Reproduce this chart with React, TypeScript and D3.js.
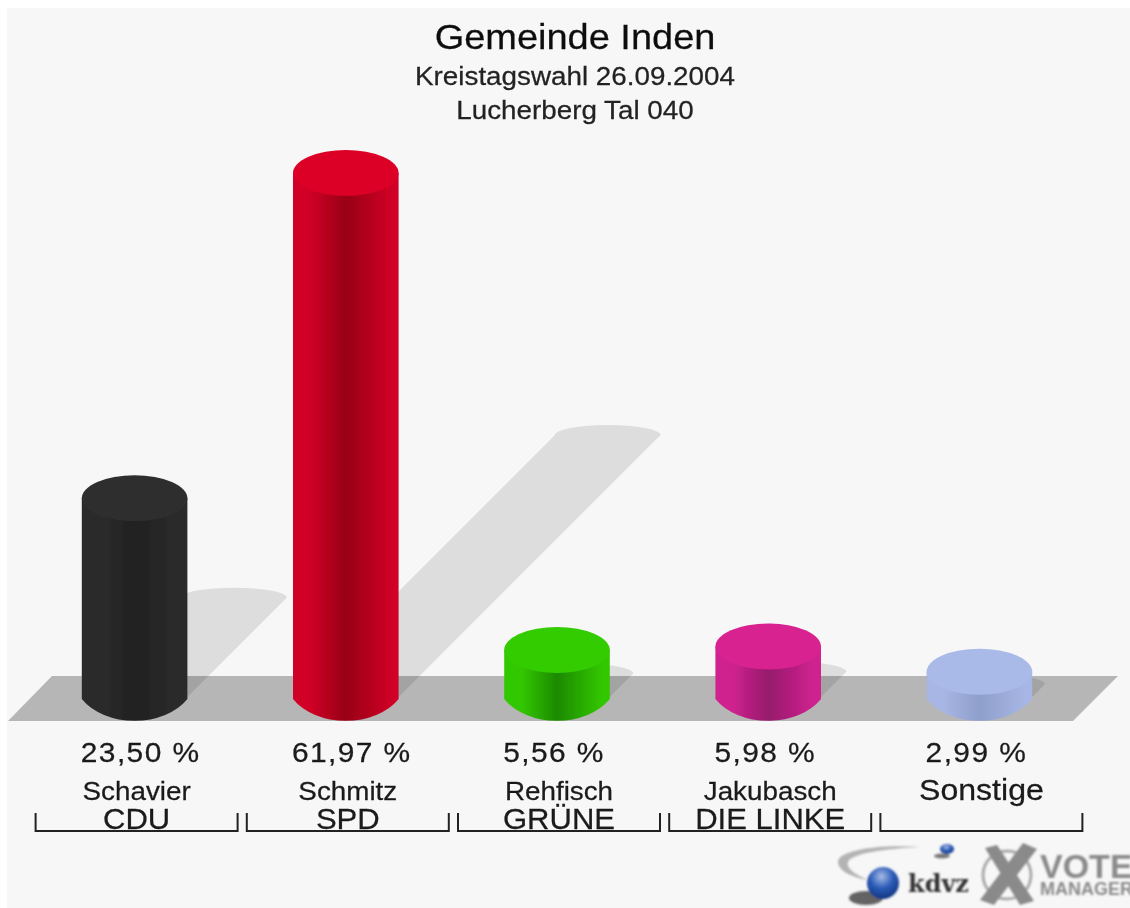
import React from 'react'
import * as d3 from 'd3'

const W = 1130
const H = 908

const parties = ['CDU', 'SPD', 'GRÜNE', 'DIE LINKE', '']
const names = ['Schavier', 'Schmitz', 'Rehfisch', 'Jakubasch', 'Sonstige']
const values = [23.5, 61.97, 5.56, 5.98, 2.99]
const valueLabels = ['23,50 %', '61,97 %', '5,56 %', '5,98 %', '2,99 %']
const sideLight = ['#2c2c2c', '#d00026', '#33c800', '#d0228f', '#a7b6e4']
const sideDark = ['#212121', '#980016', '#1c8a00', '#961a6c', '#8f9fcc']
const topColors = ['#2f2f2f', '#dc0026', '#33cc00', '#d8228f', '#aabae8']
const titleLines = ['Gemeinde Inden', 'Kreistagswahl 26.09.2004', 'Lucherberg Tal 040']

const baseY = 697
const cornerY = 699
const ry = 23
const font = '"Liberation Sans", Arial, sans-serif'
// the source image is stretched a little sideways
const stretch = 1.07

const x = d3.scaleBand<number>()
  .domain(d3.range(values.length))
  .range([29, 1085])
  .paddingInner(0.5)
  .paddingOuter(0.25)

const h = d3.scaleLinear().domain([0, 61.97]).range([0, 524])

const Label = ({ x, y, size, anchor = 'middle', spacing = 0, fill = '#1a1a1a', children }: any) => (
  <text
    transform={`translate(${x},${y}) scale(${stretch},1)`}
    textAnchor={anchor}
    fontFamily={font}
    fontSize={size}
    letterSpacing={spacing}
    fill={fill}
    stroke={fill}
    strokeWidth={0.25}
  >
    {children}
  </text>
)

export default function App() {
  const rx = x.bandwidth() / 2

  const floor = d3.path()
  floor.moveTo(8, 721)
  floor.lineTo(1073, 721)
  floor.lineTo(1118, 676)
  floor.lineTo(52, 676)
  floor.closePath()

  return (
    <svg width={W} height={H} style={{ position: 'fixed', left: 0, top: 0 }}>
      <defs>
        <filter id="soft" x="-2%" y="-2%" width="104%" height="104%">
          <feGaussianBlur stdDeviation="0.6" />
        </filter>
        <filter id="softer" x="-5%" y="-5%" width="110%" height="110%">
          <feGaussianBlur stdDeviation="0.9" />
        </filter>
        <radialGradient id="ball" cx="0.45" cy="0.3" r="0.8">
          <stop offset="0" stopColor="#a8bce6" />
          <stop offset="0.45" stopColor="#2c5cb8" />
          <stop offset="1" stopColor="#0c2a70" />
        </radialGradient>
        {values.map((_, i) => (
          <linearGradient key={i} id={'side' + i}>
            <stop offset="0" stopColor={sideLight[i]} />
            <stop offset="0.16" stopColor={sideLight[i]} />
            <stop offset="0.5" stopColor={sideDark[i]} />
            <stop offset="0.94" stopColor={sideLight[i]} />
            <stop offset="1" stopColor={sideLight[i]} />
          </linearGradient>
        ))}
      </defs>

      <rect x={7} y={8} width={W - 7} height={H - 8} fill="#f7f7f7" />

      <g filter="url(#soft)">
        <path d={floor.toString()} fill="#b6b6b6" />

        {/* shadows fall up and to the right */}
        {values.map((v, i) => {
          const cx = x(i)! + rx
          const off = h(v) / 2
          return (
            <path
              key={i}
              fill="#000"
              fillOpacity={0.1}
              d={`M${cx - rx},${baseY} L${cx - rx + off},${baseY - off}
                A${rx},10 0 0 1 ${cx + rx + off},${baseY - off}
                L${cx + rx},${baseY} Z`}
            />
          )
        })}

        {values.map((v, i) => {
          const cx = x(i)! + rx
          const topY = baseY - h(v)
          return (
            <g key={i}>
              <path
                fill={`url(#side${i})`}
                d={`M${cx - rx},${topY} L${cx - rx},${cornerY}
                  A${rx * 1.15},43 0 0 0 ${cx + rx},${cornerY} L${cx + rx},${topY} Z`}
              />
              <ellipse cx={cx} cy={topY} rx={rx} ry={ry} fill={topColors[i]} />
            </g>
          )
        })}

        {titleLines.map((t, i) => (
          <Label
            key={t}
            x={575}
            y={[49, 85, 119][i]}
            size={i === 0 ? 35.5 : 26}
            fill={i === 0 ? '#111' : '#222'}
          >
            {t}
          </Label>
        ))}

        {values.map((_, i) => {
          const cx = x(i)! + rx + 2
          return (
            <g key={i}>
              <Label x={x(i)! - 1} y={762} size={28} anchor="start" spacing={1.3}>{valueLabels[i]}</Label>
              <Label x={cx} y={800} size={i === 4 ? 30 : 26}>{names[i]}</Label>
              <Label x={cx} y={829} size={29}>{parties[i]}</Label>
              <path
                d={`M${cx - 101},813 V831 H${cx + 101} V813`}
                fill="none"
                stroke="#222"
                strokeWidth={2}
              />
            </g>
          )
        })}
      </g>

      {/* kdvz / VoteManager logo */}
      <g filter="url(#softer)">
        <path
          d="M920,847 C880,844 838,850 838,862 C838,870 850,877 868,880 C854,874 846,868 848,862 C852,853 885,849 920,847 Z"
          fill="#b4b4b4"
        />
        <ellipse cx={866} cy={898} rx={17} ry={7} fill="#333" opacity={0.75} />
        <circle cx={883} cy={883} r={16} fill="url(#ball)" />
        <ellipse cx={942} cy={856} rx={8} ry={2.5} fill="#444" opacity={0.7} />
        <ellipse cx={947} cy={849} rx={7} ry={5} fill="url(#ball)" />
        <text x={908} y={892} fontFamily='"DejaVu Serif", serif' fontWeight="bold" fontSize={24} fill="#333">kdvz</text>
        <circle cx={1007} cy={875} r={24} fill="none" stroke="#aaa" strokeWidth={3} />
        <path d="M985,848 L997,845 L1034,901 L1020,905 Z" fill="#8a8a8a" />
        <path d="M1023,843 L1037,849 L994,905 L980,900 Z" fill="#8a8a8a" />
        <text x={1040} y={878} fontFamily={font} fontWeight="bold" fontSize={34} fill="#8a8a8a">VOTE</text>
        <text x={1040} y={895} fontFamily={font} fontWeight="bold" fontSize={18} fill="#8a8a8a">MANAGER</text>
      </g>
    </svg>
  )
}
